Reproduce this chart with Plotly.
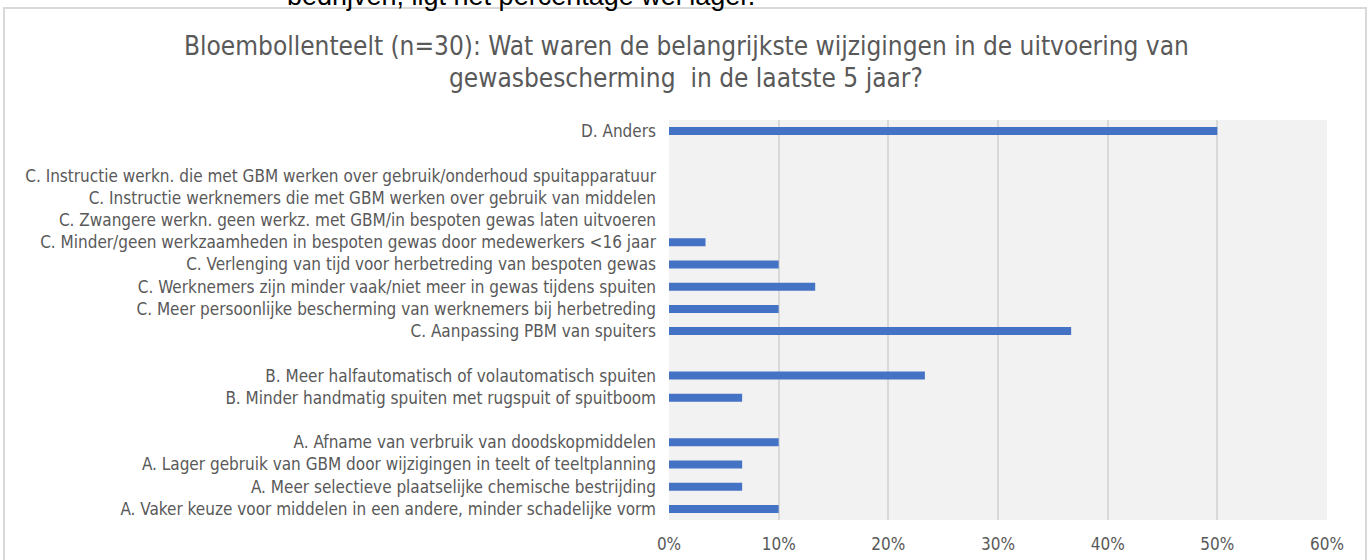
import plotly.graph_objects as go

categories = [
    "D. Anders",
    " ",
    "C. Instructie werkn. die met GBM werken over gebruik/onderhoud spuitapparatuur",
    "C. Instructie werknemers die met GBM werken over gebruik van middelen",
    "C. Zwangere werkn. geen werkz. met GBM/in bespoten gewas laten uitvoeren",
    "C. Minder/geen werkzaamheden in bespoten gewas door medewerkers <16 jaar",
    "C. Verlenging van tijd voor herbetreding van bespoten gewas",
    "C. Werknemers zijn minder vaak/niet meer in gewas tijdens spuiten",
    "C. Meer persoonlijke bescherming van werknemers bij herbetreding",
    "C. Aanpassing PBM van spuiters",
    "  ",
    "B. Meer halfautomatisch of volautomatisch spuiten",
    "B. Minder handmatig spuiten met rugspuit of spuitboom",
    "   ",
    "A. Afname van verbruik van doodskopmiddelen",
    "A. Lager gebruik van GBM door wijzigingen in teelt of teeltplanning",
    "A. Meer selectieve plaatselijke chemische bestrijding",
    "A. Vaker keuze voor middelen in een andere, minder schadelijke vorm",
]
values = [50.0, None, 0, 0, 0, 3.33, 10.0, 13.33, 10.0, 36.67, None,
          23.33, 6.67, None, 10.0, 6.67, 6.67, 10.0]
x_ticks = [0, 10, 20, 30, 40, 50, 60]
x_tick_labels = ["0%", "10%", "20%", "30%", "40%", "50%", "60%"]

title_line1 = "Bloembollenteelt (n=30): Wat waren de belangrijkste wijzigingen in de uitvoering van"
title_line2 = "gewasbescherming  in de laatste 5 jaar?"
top_text = "bedrijven, ligt het percentage wel lager."

W, H = 1371, 560
L, R, T, B = 669, 44, 120, 40
pw, ph = W - L - R, H - T - B

def px_x(x):
    return (x - L) / pw

def px_y(y):
    return (H - B - y) / ph

FONT = "Liberation Sans Narrow, DejaVu Sans Condensed, Open Sans, sans-serif"
GRAY = "#595959"

fig = go.Figure(go.Bar(
    x=values, y=categories, orientation="h",
    marker=dict(color="#4472C4", line=dict(width=0)),
    hoverinfo="x+y",
))

fig.update_layout(
    width=W, height=H,
    margin=dict(l=L, r=R, t=T, b=B, autoexpand=False),
    paper_bgcolor="white",
    plot_bgcolor="#F2F2F2",
    bargap=0.64,
    showlegend=False,
    font=dict(family=FONT, color=GRAY, size=17),
    xaxis=dict(range=[0, 60], tickmode="array", tickvals=x_ticks, ticktext=x_tick_labels,
               showgrid=True, gridcolor="#D9D9D9", gridwidth=1.5,
               zeroline=False, showline=False, ticks="", automargin=False,
               ticklabelstandoff=12, tickfont=dict(size=17, color=GRAY)),
    yaxis=dict(type="category", categoryorder="array", categoryarray=categories,
               tickmode="array", tickvals=categories, ticktext=categories,
               autorange="reversed", showgrid=False, zeroline=False,
               showline=False, ticks="", ticklabelstandoff=12, automargin=False,
               tickfont=dict(size=17, color=GRAY)),
    shapes=[dict(type="rect", xref="paper", yref="paper",
                 x0=px_x(4), x1=px_x(1366), y0=px_y(575), y1=px_y(8),
                 line=dict(color="#D9D9D9", width=2), layer="below")],
    annotations=[
        dict(text=top_text, xref="paper", yref="paper",
             x=px_x(521), y=px_y(-4), xanchor="center", yanchor="middle",
             showarrow=False,
             font=dict(family="Liberation Sans, Arial, sans-serif", size=27, color="black")),
        dict(text=title_line1, xref="paper", yref="paper",
             x=px_x(686), y=px_y(46), xanchor="center", yanchor="middle",
             showarrow=False, font=dict(family=FONT, size=26, color=GRAY)),
        dict(text=title_line2, xref="paper", yref="paper",
             x=px_x(686), y=px_y(78), xanchor="center", yanchor="middle",
             showarrow=False, font=dict(family=FONT, size=26, color=GRAY)),
    ],
)

fig.write_html("out.html", config={"displayModeBar": False},
               post_script="document.body.style.margin='0';")
